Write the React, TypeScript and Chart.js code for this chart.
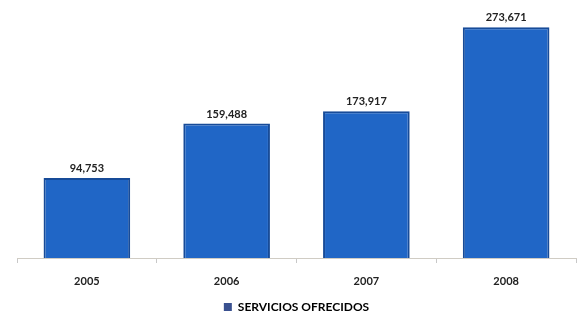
import React, { useEffect, useRef } from "react";
import { Chart, registerables } from "chart.js";

Chart.register(...registerables);

const categories: string[] = ["2005", "2006", "2007", "2008"];
const values: number[] = [94753, 159488, 173917, 273671];
const seriesLabel = "SERVICIOS OFRECIDOS";

const valueLabels = {
  id: "valueLabels",
  afterDatasetsDraw(chart: any) {
    const ctx = chart.ctx;
    const meta = chart.getDatasetMeta(0);
    ctx.save();
    ctx.font = "bold 11px Lato";
    ctx.fillStyle = "#222222";
    ctx.textAlign = "center";
    ctx.textBaseline = "bottom";
    meta.data.forEach((bar: any, i: number) => {
      ctx.fillText(values[i].toLocaleString("en-US"), bar.x, bar.y - 4);
    });
    ctx.restore();
  },
};

export default function App() {
  const ref = useRef<HTMLCanvasElement>(null);
  useEffect(() => {
    const chart = new Chart(ref.current!, {
      type: "bar",
      data: {
        labels: categories,
        datasets: [
          {
            label: seriesLabel,
            data: values,
            backgroundColor: "#2066c6",
            borderColor: "#174b98",
            borderWidth: 2,
            categoryPercentage: 0.62,
            barPercentage: 1,
          },
        ],
      },
      options: {
        animation: false,
        responsive: false,
        maintainAspectRatio: false,
        layout: { padding: { left: 17, right: 5, top: 5, bottom: -5 } },
        scales: {
          x: {
            afterFit: (s: any) => {
              s.height = 43;
            },
            grid: {
              display: true,
              drawOnChartArea: false,
              drawTicks: true,
              tickLength: 5,
              color: "#c8c8c8",
              offset: true,
            },
            border: { display: true, color: "#d0ccc4", width: 1 },
            ticks: {
              font: { family: "Lato", weight: "bold", size: 11 },
              color: "#222222",
              padding: 12,
            },
          },
          y: {
            display: false,
            min: 0,
            max: 300000,
          },
        },
        plugins: {
          legend: {
            position: "bottom",
            labels: {
              boxWidth: 8,
              boxHeight: 8,
              padding: 0,
              font: { family: "Lato", weight: "bold", size: 12 },
              color: "#222222",
              generateLabels: () => [
                {
                  text: seriesLabel,
                  fillStyle: "#3a5190",
                  strokeStyle: "#3a5190",
                  lineWidth: 0,
                  datasetIndex: 0,
                },
              ],
            },
          },
          tooltip: { enabled: false },
        },
      },
      plugins: [valueLabels],
    });
    return () => chart.destroy();
  }, []);
  return (
    <div style={{ position: "absolute", left: 0, top: 0, width: 581, height: 318, background: "#ffffff" }}>
      <canvas ref={ref} width={581} height={318} />
    </div>
  );
}
